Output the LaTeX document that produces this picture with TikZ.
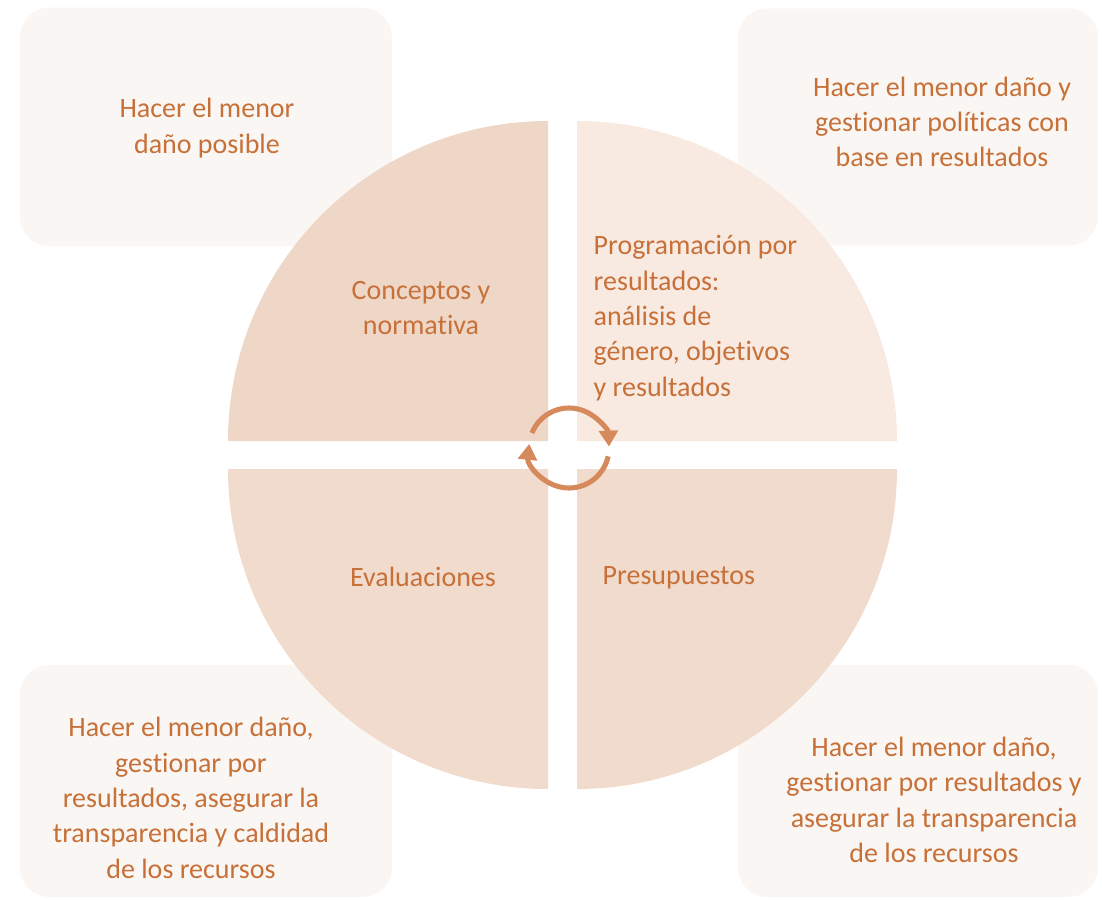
\documentclass[tikz,border=0pt]{standalone}
\usepackage{fontspec}
\setmainfont{Carlito}[Ligatures=NoCommon]
\usepackage{tikz}
\usetikzlibrary{positioning,arrows.meta}
\definecolor{textorange}{RGB}{199,112,56}
\definecolor{quadone}{RGB}{239,215,199}
\definecolor{quadtwo}{RGB}{248,233,225}
\definecolor{quadthree}{RGB}{241,219,204}
\definecolor{boxfill}{RGB}{250,246,243}
\definecolor{cyclecol}{RGB}{214,138,92}
\tikzstyle{cornerbox}=[rectangle, fill=boxfill, rounded corners=22pt, inner sep=0pt]
\tikzstyle{boxtext}=[text=textorange, font=\fontsize{21}{26.5}\selectfont, align=center]
\tikzstyle{quadtext}=[boxtext]
\tikzstyle{cyclearrow}=[draw=cyclecol, line width=3.8pt, -{Triangle[length=12pt,width=14pt]}]

\begin{document}
\begin{tikzpicture}[x=0.75pt, y=-0.75pt]
	\useasboundingbox (0,0) rectangle (1102,899);

	% boxes in the corners
	\node (boxTL) [cornerbox, minimum width=279pt, minimum height=179pt] at (206,127) {};
	\node (boxTR) [cornerbox, minimum width=270pt, minimum height=178pt] at (918,127) {};
	\node (boxBL) [cornerbox, minimum width=279pt, minimum height=174pt] at (206,781) {};
	\node (boxBR) [cornerbox, minimum width=270pt, minimum height=174pt] at (918,781) {};

	% the four quarters
	\fill[quadone] (548,441) -- (228,441) arc (180:270:320) -- cycle;
	\fill[quadtwo] (577,441) -- (577,121) arc (270:360:320) -- cycle;
	\fill[quadthree] (548,469) -- (548,789) arc (90:180:320) -- cycle;
	\fill[quadthree] (577,469) -- (897,469) arc (0:90:320) -- cycle;

	\node (conceptos) [quadtext] at (421,308) {Conceptos y\\ normativa};
	\node (programacion) [quadtext, align=left, anchor=west] at (589,318)
        {Programación por\\resultados:\\análisis de\\género, objetivos\\y resultados};
	\node (evaluaciones) [quadtext] at (423,577) {Evaluaciones};
	\node (presupuestos) [quadtext, anchor=west] at (598,578) {Presupuestos};

	\node (textTL) [boxtext] at (207,128) {Hacer el menor\\daño posible};
	\node (textTR) [boxtext] at (942,122)
        {Hacer el menor daño y\\gestionar políticas con\\base en resultados};
	\node (textBL) [boxtext] at (191,798)
        {Hacer el menor daño,\\gestionar por\\resultados, asegurar la\\transparencia y caldidad\\de los recursos};
	\node (textBR) [boxtext] at (934,800)
        {Hacer el menor daño,\\gestionar por resultados y\\asegurar la transparencia\\de los recursos};

	% cycle in the middle
	\coordinate (hub) at (569,448);
	\draw[cyclearrow] (hub) ++(202:40) arc (202:358:40);
	\draw[cyclearrow] (hub) ++(12:40) arc (12:186:40);

\end{tikzpicture}
\end{document}
